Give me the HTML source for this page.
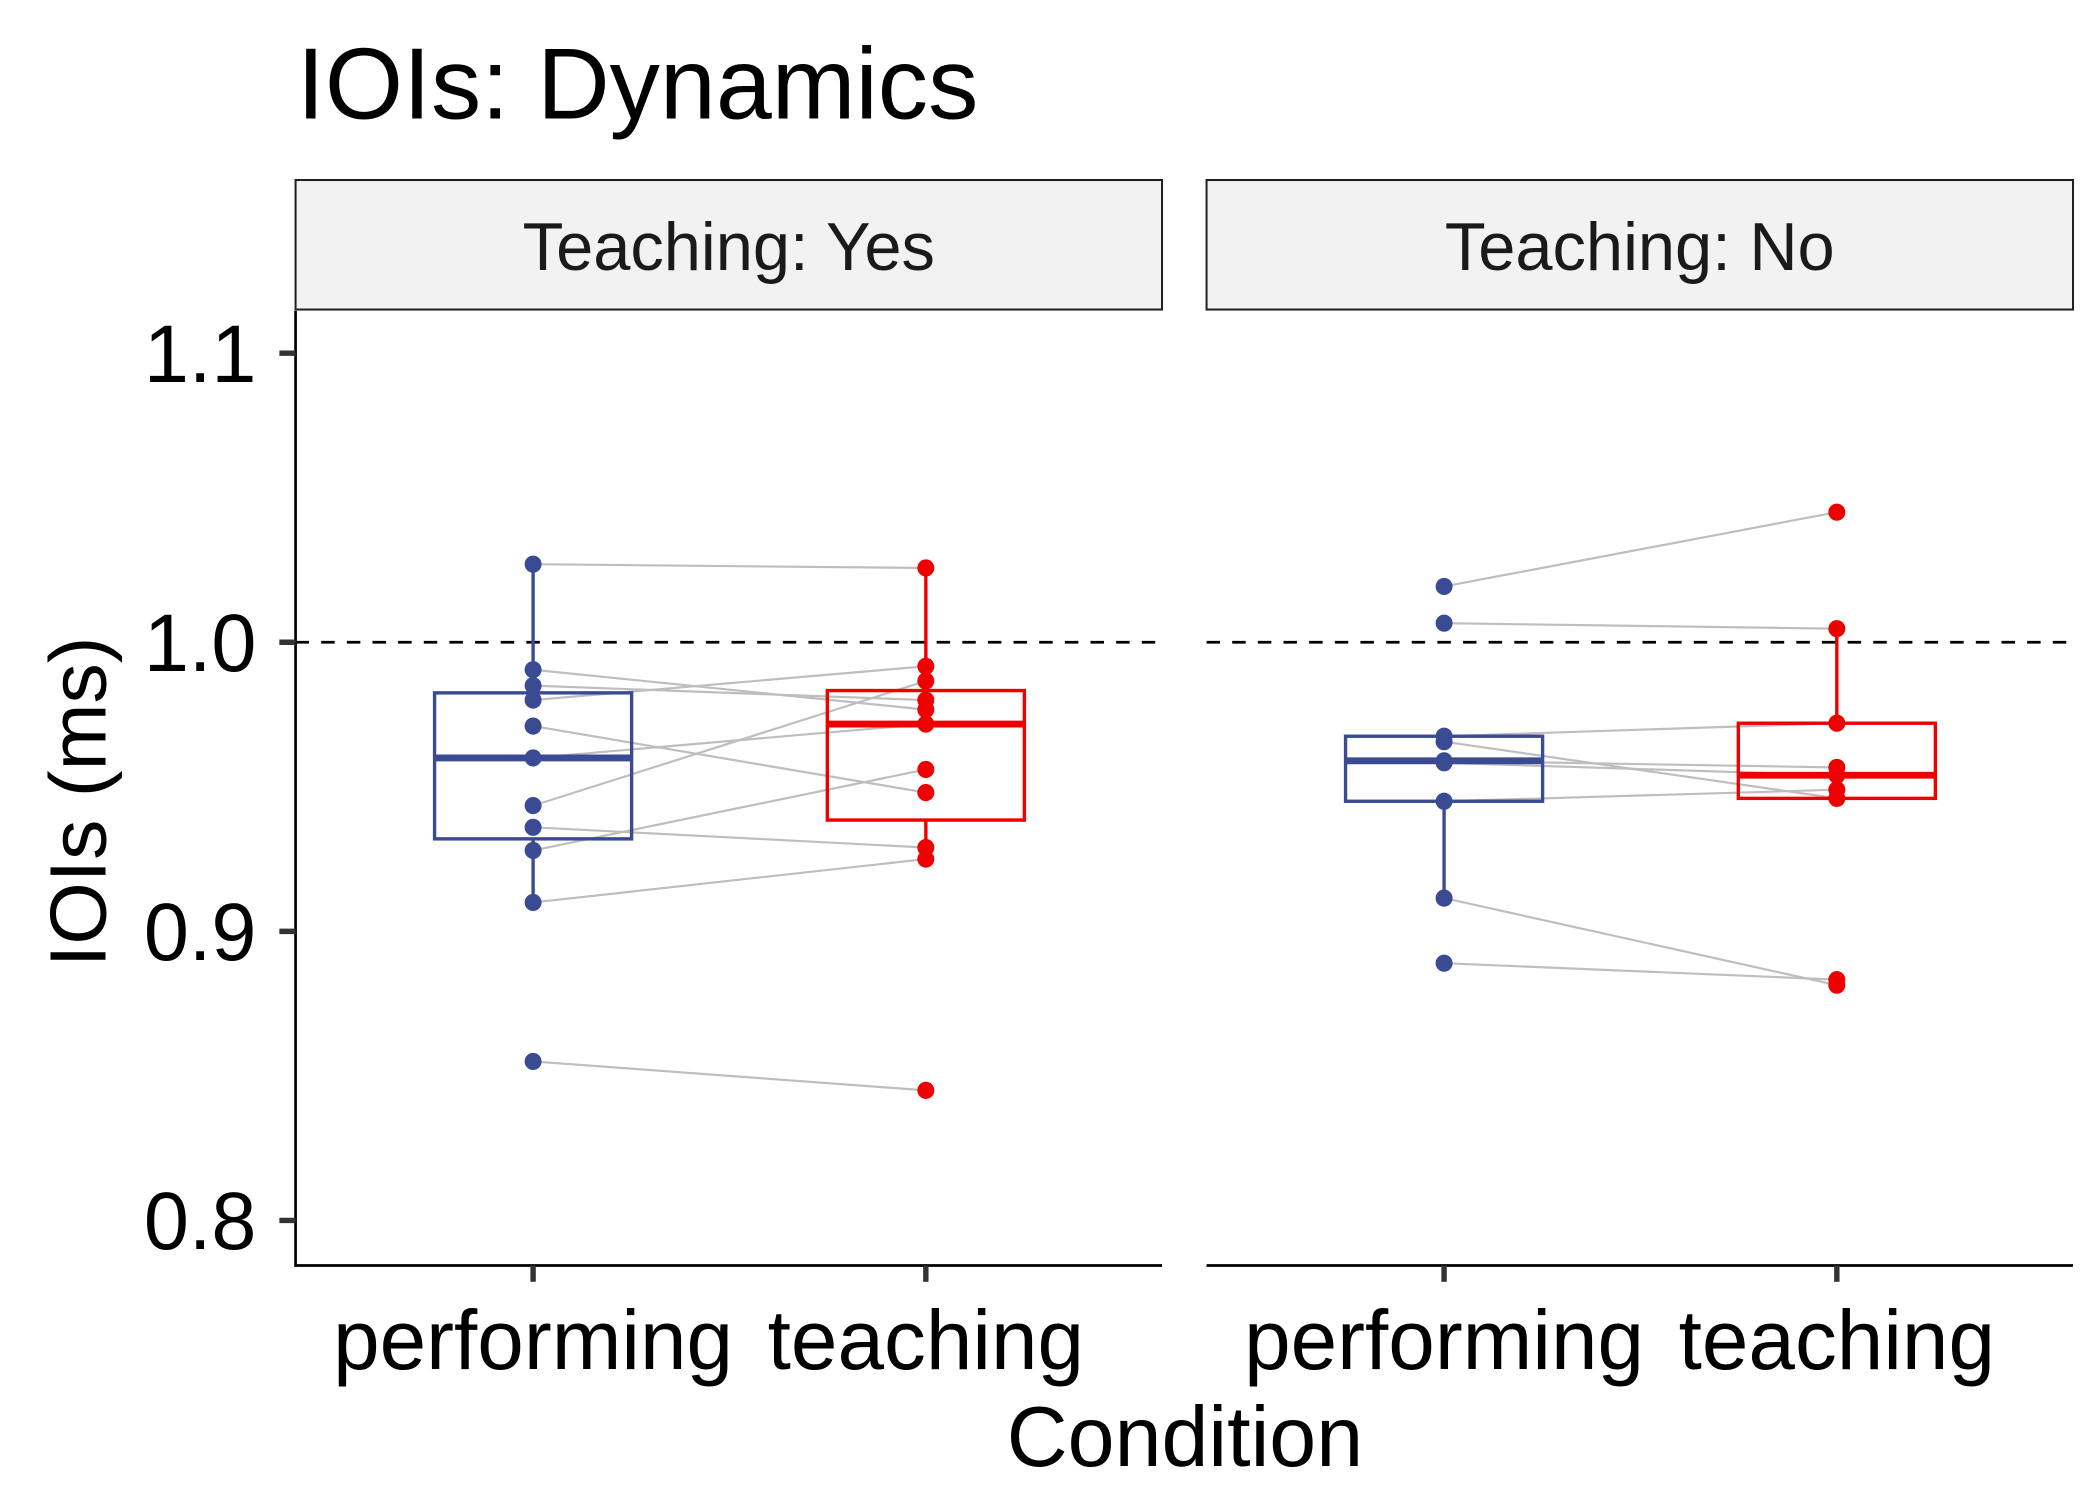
<!DOCTYPE html>
<html><head><meta charset="utf-8"><style>
html,body{margin:0;padding:0;background:#fff;}
svg{display:block;font-family:"Liberation Sans",sans-serif;}
</style></head><body>
<svg id="chart" width="2100" height="1500" viewBox="0 0 1556 1100" preserveAspectRatio="none" xmlns="http://www.w3.org/2000/svg">
<text x="220" y="87" font-size="74.5">IOIs: Dynamics</text>
<g id="plot"></g>
<text x="878" y="1075" font-size="62.5" text-anchor="middle">Condition</text>
<text transform="translate(78,588) rotate(-90)" font-size="59" text-anchor="middle">IOIs (ms)</text>
</svg>
<script>
const panels = ["Teaching: Yes", "Teaching: No"];
const categories = ["performing", "teaching"];
const yesPerforming = [1.027, 0.9905, 0.985, 0.980, 0.971, 0.960, 0.9435, 0.936, 0.928, 0.910, 0.855];
const yesTeaching   = [1.0257, 0.9767, 0.980, 0.9917, 0.948, 0.9717, 0.9866, 0.929, 0.956, 0.925, 0.845];
const noPerforming  = [1.0193, 1.0066, 0.9675, 0.9656, 0.9590, 0.9583, 0.945, 0.9115, 0.889];
const noTeaching    = [1.045, 1.0047, 0.972, 0.946, 0.9567, 0.954, 0.949, 0.8814, 0.8833];
const yTicks = [0.8, 0.9, 1.0, 1.1];
const yTickLabels = ["0.8", "0.9", "1.0", "1.1"];
const refLine = 1.0;

const NS = "http://www.w3.org/2000/svg";
const plot = document.getElementById('plot');
const panelX = [219, 894], panelW = 642, plotTop = 228, plotBottom = 928;
function y(v){ return 471 - (v - 1.0) * 2120; }
function x(p, c){ return panelX[p] + 176 + c * 291; }
function mk(tag, attrs){ const e = document.createElementNS(NS, tag); for (const k in attrs) e.setAttribute(k, attrs[k]); plot.appendChild(e); return e; }
function q(s, p){ const a=[...s].sort((m,n)=>m-n); const h=(a.length-1)*p; const lo=Math.floor(h); const nx = lo+1 < a.length ? a[lo+1] : a[lo]; return a[lo]+(h-lo)*(nx-a[lo]); }

const data = [[yesPerforming, yesTeaching],[noPerforming, noTeaching]];
const colors = ["#3A4B94", "#EE0000"];

for (let p = 0; p < 2; p++) {
  let e = mk('rect', {x: panelX[p], y: 132, width: panelW, height: 95, fill: '#F2F2F2', stroke: '#222', 'stroke-width': 1.5});
  
  
  e = mk('text', {x: panelX[p] + panelW/2, y: 198, 'font-size': 49.5, 'text-anchor': 'middle', fill: '#1a1a1a'});
  e.textContent = panels[p];
  
  
  e = mk('line', {x1: panelX[p], x2: panelX[p] + panelW, y1: plotBottom, y2: plotBottom, stroke: '#000', 'stroke-width': 2});
  
  
  for (let c = 0; c < 2; c++) {
    e = mk('line', {x1: x(p,c), x2: x(p,c), y1: plotBottom, y2: plotBottom + 12, stroke: '#333', 'stroke-width': 4});
    
    
    e = mk('text', {x: x(p,c), y: 1004, 'font-size': 62, 'text-anchor': 'middle'});
    e.textContent = categories[c];
    
    
  }
  e = mk('line', {x1: panelX[p], x2: panelX[p] + panelW, y1: y(refLine), y2: y(refLine), stroke: '#000', 'stroke-width': 2, 'stroke-dasharray': '10 9'});
  
  
  const a = data[p][0], b = data[p][1];
  for (let i = 0; i < a.length; i++) {
    e = mk('line', {x1: x(p,0), y1: y(a[i]), x2: x(p,1), y2: y(b[i]), stroke: '#BEBEBE', 'stroke-width': 1.6});
    
    
  }
  for (let c = 0; c < 2; c++) {
    const s = data[p][c], col = colors[c], cx = x(p,c);
    const q1 = q(s,0.25), md = q(s,0.5), q3 = q(s,0.75), iqr = q3 - q1;
    const inl = s.filter(v => v >= q1 - 1.5*iqr && v <= q3 + 1.5*iqr);
    const lo = Math.min(...inl), hi = Math.max(...inl);
    e = mk('line', {x1: cx, x2: cx, y1: y(hi), y2: y(q3), stroke: col, 'stroke-width': 2.5});
    
    
    e = mk('line', {x1: cx, x2: cx, y1: y(q1), y2: y(lo), stroke: col, 'stroke-width': 2.5});
    
    
    e = mk('rect', {x: cx - 73, y: y(q3), width: 146, height: y(q1) - y(q3), fill: 'none', stroke: col, 'stroke-width': 2.5});
    
    
    e = mk('line', {x1: cx - 73, x2: cx + 73, y1: y(md), y2: y(md), stroke: col, 'stroke-width': 5});
    
    
    for (const v of s) {
      e = mk('circle', {cx: cx, cy: y(v), r: 6.3, fill: col});
      
      
    }
  }
}
let ya = mk('line', {x1: 219, x2: 219, y1: plotTop, y2: plotBottom + 1, stroke: '#000', 'stroke-width': 2});


for (let i = 0; i < yTicks.length; i++) {
  let e = mk('line', {x1: 207, x2: 219, y1: y(yTicks[i]), y2: y(yTicks[i]), stroke: '#333', 'stroke-width': 4});
  
  
  e = mk('text', {x: 190, y: y(yTicks[i]) + 21, 'font-size': 60, 'text-anchor': 'end'});
  e.textContent = yTickLabels[i];
  
  
}
</script>
</body></html>
